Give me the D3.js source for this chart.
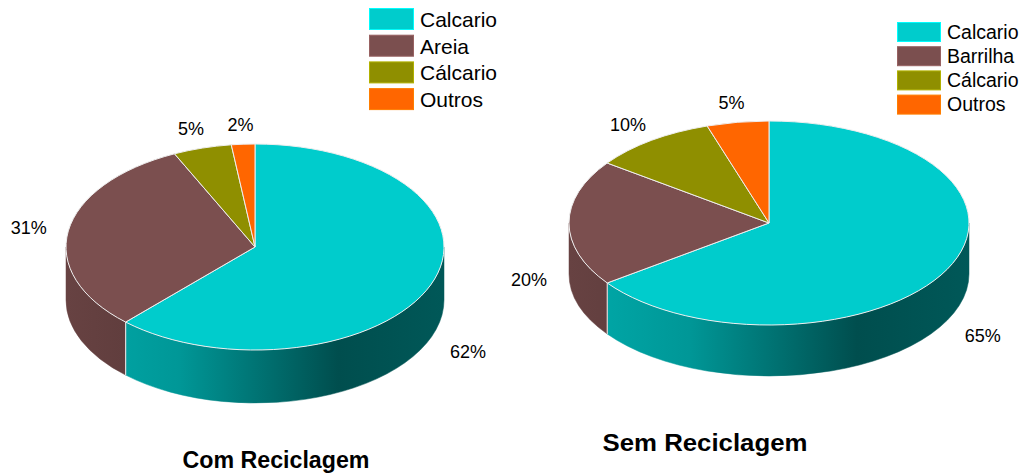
<!DOCTYPE html>
<html>
<meta charset="utf-8">
<style>
  body { margin: 0; background: #fff; }
  svg text { font-family: "Liberation Sans", Arial, sans-serif; fill: #000; }
</style>
<body>
<script src="https://d3js.org/d3.v7.min.js"></script>
<script>
  // chart data
  const colors = ["#00CCCC", "#7B4F4F", "#8F8F00", "#FF6600"];
  const comLabels = ["Calcario", "Areia", "Cálcario", "Outros"];
  const comValues = [62, 31, 5, 2];
  const semLabels = ["Calcario", "Barrilha", "Cálcario", "Outros"];
  const semValues = [65, 20, 10, 5];
  const titles = ["Com Reciclagem", "Sem Reciclagem"];

  const width = 1027, height = 475;

  const svg = d3.select("body").append("svg")
      .attr("width", width)
      .attr("height", height);

  const defs = svg.append("defs");

  // layout of the two pies
  const pies = [
    {labels: comLabels, values: comValues, title: titles[0],
     cx: 255, cy: 247, rx: 189, ry: 103, h: 53,
     legend: {x: 369, y: 8, sw: 45, sh: 22, step: 26.7, font: 21, base: 19},
     titlePos: {x: 276, y: 468, len: 187}},
    {labels: semLabels, values: semValues, title: titles[1],
     cx: 769, cy: 223, rx: 200, ry: 102, h: 51,
     legend: {x: 897, y: 22, sw: 44, sh: 20, step: 24.2, font: 19.5, base: 16.5},
     titlePos: {x: 705, y: 451, len: 205}}
  ];

  const pie = d3.pie().sort(null).startAngle(0).endAngle(2 * Math.PI);
  const color = d3.scaleOrdinal().domain(d3.range(colors.length)).range(colors);

  function shade(c, k) {
    const r = d3.rgb(c);
    return d3.rgb(r.r * k, r.g * k, r.b * k).formatHex();
  }

  pies.forEach((p, pi) => {
    const g = svg.append("g");
    const pt = (a, dy = 0) => [p.cx + p.rx * Math.sin(a), p.cy - p.ry * Math.cos(a) + dy];
    const arcs = pie(p.values);

    // side gradients
    colors.forEach((c, ci) => {
      const grad = defs.append("linearGradient")
          .attr("id", `side${pi}_${ci}`)
          .attr("gradientUnits", "userSpaceOnUse")
          .attr("x1", p.cx - p.rx).attr("x2", p.cx + p.rx)
          .attr("y1", 0).attr("y2", 0);
      [[0, 0.84], [0.3, 0.74], [0.72, 0.38], [1, 0.43]].forEach(([o, k]) => {
        grad.append("stop").attr("offset", o).attr("stop-color", shade(c, k));
      });
    });

    // side walls (front half only)
    arcs.forEach((d, i) => {
      const a0 = Math.max(d.startAngle, Math.PI / 2);
      const a1 = Math.min(d.endAngle, 3 * Math.PI / 2);
      if (a1 <= a0) return;
      const s0 = pt(a0), s1 = pt(a1), b0 = pt(a0, p.h), b1 = pt(a1, p.h);
      g.append("path")
          .attr("d", `M${s0}A${p.rx},${p.ry} 0 0 1 ${s1}L${b1}A${p.rx},${p.ry} 0 0 0 ${b0}Z`)
          .attr("fill", `url(#side${pi}_${i})`)
          .attr("stroke", `url(#side${pi}_${i})`)
          .attr("stroke-width", 0.5);
      // boundary line between slices on the wall
      [d.startAngle, d.endAngle].forEach(a => {
        if (a > Math.PI / 2 + 0.01 && a < 3 * Math.PI / 2 - 0.01) {
          g.append("line")
              .attr("x1", pt(a)[0]).attr("y1", pt(a)[1])
              .attr("x2", pt(a, p.h)[0]).attr("y2", pt(a, p.h)[1])
              .attr("stroke", "#e8e8e8").attr("stroke-width", 1);
        }
      });
    });

    // top faces
    arcs.forEach((d, i) => {
      const s0 = pt(d.startAngle), s1 = pt(d.endAngle);
      const large = d.endAngle - d.startAngle > Math.PI ? 1 : 0;
      g.append("path")
          .attr("d", `M${p.cx},${p.cy}L${s0}A${p.rx},${p.ry} 0 ${large} 1 ${s1}Z`)
          .attr("fill", color(i))
          .attr("stroke", "#eeeeee")
          .attr("stroke-width", 1)
          .attr("stroke-linejoin", "round");
    });

    // percent labels
    arcs.forEach((d, i) => {
      const a = (d.startAngle + d.endAngle) / 2;
      const lower = Math.cos(a) < 0;
      const x = p.cx + (p.rx + 40) * Math.sin(a);
      const y = p.cy - (p.ry + 20) * Math.cos(a) + (lower ? p.h + 6 : 0);
      g.append("text")
          .attr("x", x).attr("y", y)
          .attr("dy", "0.35em")
          .attr("text-anchor", "middle")
          .style("font-size", "18px")
          .text(d.data + "%");
    });

    // legend
    const L = p.legend;
    const leg = g.append("g").attr("transform", `translate(${L.x},${L.y})`);
    p.labels.forEach((lab, i) => {
      leg.append("rect")
          .attr("x", 0.5).attr("y", i * L.step + 0.5)
          .attr("width", L.sw - 1).attr("height", L.sh - 1)
          .attr("fill", color(i))
          .attr("stroke", d3.color(color(i)).brighter(0.6))
          .attr("stroke-width", 1);
      leg.append("text")
          .attr("x", L.sw + 6).attr("y", i * L.step + L.base)
          .style("font-size", L.font + "px")
          .text(lab);
    });

    // title
    g.append("text")
        .attr("x", p.titlePos.x).attr("y", p.titlePos.y)
        .attr("text-anchor", "middle")
        .attr("textLength", p.titlePos.len)
        .attr("lengthAdjust", "spacingAndGlyphs")
        .style("font-size", "23px")
        .style("font-weight", "bold")
        .text(p.title);
  });
</script>
</body>
</html>
